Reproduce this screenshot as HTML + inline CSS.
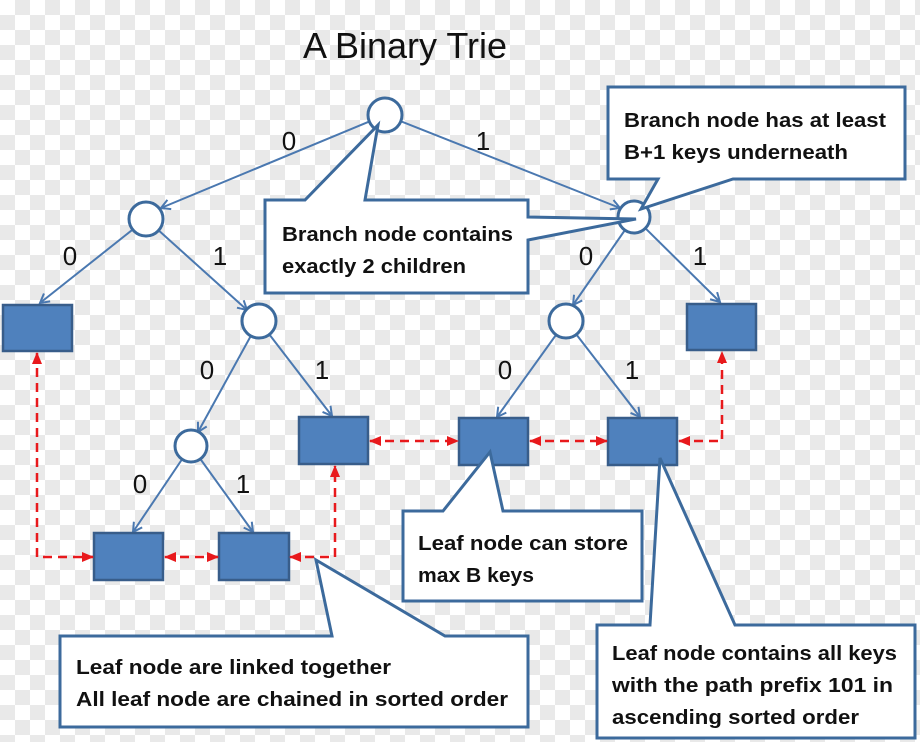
<!DOCTYPE html>
<html><head><style>html,body{margin:0;padding:0}
body{width:920px;height:742px;background:repeating-conic-gradient(#e9e9e9 0 25%,#ffffff 0 50%) 0 0/30px 30px}
svg{display:block}</style></head><body>
<svg width="920" height="742" viewBox="0 0 920 742" xmlns="http://www.w3.org/2000/svg" font-family="'Liberation Sans', sans-serif">
<defs>
<marker id="oa" markerWidth="12" markerHeight="12" refX="10" refY="6" orient="auto" markerUnits="userSpaceOnUse"><path d="M1,1 L10,6 L1,11" fill="none" stroke="#4a78b0" stroke-width="2"/></marker>
<marker id="ra" markerWidth="12" markerHeight="12" refX="11" refY="6" orient="auto" markerUnits="userSpaceOnUse"><path d="M0,1 L12,6 L0,11 z" fill="#e8191c"/></marker>
<marker id="rs" markerWidth="12" markerHeight="12" refX="1" refY="6" orient="auto" markerUnits="userSpaceOnUse"><path d="M12,1 L0,6 L12,11 z" fill="#e8191c"/></marker>
</defs>
<text x="405" y="58" font-size="36" text-anchor="middle" fill="#111">A Binary Trie</text>
<g stroke="#4a78b0" stroke-width="2" fill="none" marker-end="url(#oa)">
<line x1="385" y1="115" x2="161" y2="208"/>
<line x1="385" y1="115" x2="620" y2="208"/>
<line x1="146" y1="219" x2="40" y2="303"/>
<line x1="146" y1="219" x2="247" y2="310"/>
<line x1="634" y1="217" x2="573" y2="305"/>
<line x1="634" y1="217" x2="720" y2="302"/>
<line x1="259" y1="321" x2="198" y2="432"/>
<line x1="259" y1="321" x2="332" y2="416"/>
<line x1="566" y1="321" x2="497" y2="417"/>
<line x1="566" y1="321" x2="640" y2="417"/>
<line x1="191" y1="446" x2="133" y2="532"/>
<line x1="191" y1="446" x2="253" y2="532"/>
</g>
<g fill="#fff" stroke="#3c6a9c" stroke-width="3">
<circle cx="385" cy="115" r="17"/><circle cx="146" cy="219" r="17"/><circle cx="634" cy="217" r="16"/>
<circle cx="259" cy="321" r="17"/><circle cx="566" cy="321" r="17"/><circle cx="191" cy="446" r="16"/>
</g>
<g fill="#4f81bd" stroke="#385d8a" stroke-width="2.5">
<rect x="3" y="305" width="69" height="46"/><rect x="687" y="304" width="69" height="46"/>
<rect x="299" y="417" width="69" height="47"/><rect x="459" y="418" width="69" height="47"/><rect x="608" y="418" width="69" height="47"/>
<rect x="94" y="533" width="69" height="47"/><rect x="219" y="533" width="70" height="47"/>
</g>
<g stroke="#e8191c" stroke-width="2.5" fill="none" stroke-dasharray="9,6" marker-start="url(#rs)" marker-end="url(#ra)">
<polyline points="37,353 37,557 93,557"/>
<line x1="165" y1="557" x2="218" y2="557"/>
<polyline points="290,557 335,557 335,466"/>
<line x1="370" y1="441" x2="458" y2="441"/>
<line x1="530" y1="441" x2="607" y2="441"/>
<polyline points="679,441 722,441 722,352"/>
</g>
<g font-size="26" fill="#111" text-anchor="middle">
<text x="289" y="150">0</text><text x="483" y="150">1</text>
<text x="70" y="265">0</text><text x="220" y="265">1</text>
<text x="586" y="265">0</text><text x="700" y="265">1</text>
<text x="207" y="379">0</text><text x="322" y="379">1</text>
<text x="505" y="379">0</text><text x="632" y="379">1</text>
<text x="140" y="493">0</text><text x="243" y="493">1</text>
</g>
<g fill="#fff" stroke="#3c6a9c" stroke-width="3" stroke-linejoin="miter">
<polygon points="265,200 305,200 378,125 365,200 528,200 528,217 636,219 528,240 528,293 265,293"/>
<polygon points="608,87 905,87 905,179 733,179 641,209 658,179 608,179"/>
<polygon points="403,511 443,511 490,452 503,511 642,511 642,601 403,601"/>
<polygon points="60,636 332,636 316,560 445,636 528,636 528,727 60,727"/>
<polygon points="597,625 650,625 660,458 735,625 915,625 915,738 597,738"/>
</g>
<g font-size="20" font-weight="bold" fill="#111">
<text x="282" y="241" textLength="231" lengthAdjust="spacingAndGlyphs">Branch node contains</text>
<text x="282" y="273" textLength="184" lengthAdjust="spacingAndGlyphs">exactly 2 children</text>
<text x="624" y="127" textLength="262" lengthAdjust="spacingAndGlyphs">Branch node has at least</text>
<text x="624" y="159" textLength="224" lengthAdjust="spacingAndGlyphs">B+1 keys underneath</text>
<text x="418" y="550" textLength="210" lengthAdjust="spacingAndGlyphs">Leaf node can store</text>
<text x="418" y="582" textLength="116" lengthAdjust="spacingAndGlyphs">max B keys</text>
<text x="76" y="674" textLength="315" lengthAdjust="spacingAndGlyphs">Leaf node are linked together</text>
<text x="76" y="706" textLength="432" lengthAdjust="spacingAndGlyphs">All leaf node are chained in sorted order</text>
<text x="612" y="660" textLength="285" lengthAdjust="spacingAndGlyphs">Leaf node contains all keys</text>
<text x="612" y="692" textLength="281" lengthAdjust="spacingAndGlyphs">with the path prefix 101 in</text>
<text x="612" y="724" textLength="247" lengthAdjust="spacingAndGlyphs">ascending sorted order</text>
</g>
</svg>
</body></html>
